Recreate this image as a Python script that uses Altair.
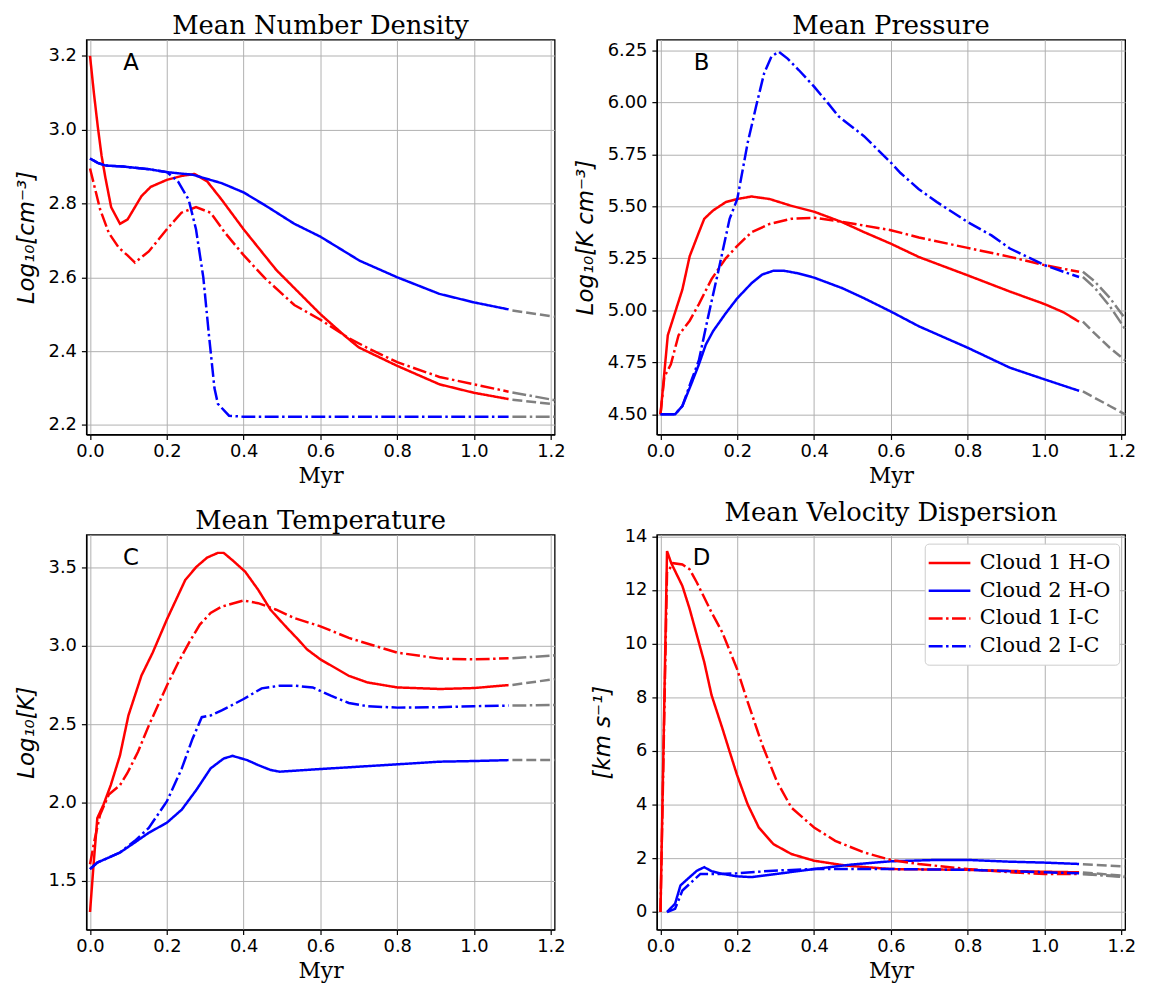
import altair as alt
import pandas as pd

SERIES = ["Cloud 1 H-O", "Cloud 2 H-O", "Cloud 1 I-C", "Cloud 2 I-C"]
COLORS = ["#ff0000", "#0000ff", "#ff0000", "#0000ff"]
DASHDOT = [14, 3.5, 2.5, 3.5]
DASHES = [[1, 0], [1, 0], DASHDOT, DASHDOT]
KINDS = ["H-O", "H-O", "I-C", "I-C"]
XTICKS = [0.0, 0.2, 0.4, 0.6, 0.8, 1.0, 1.2]

# ---------------- Panel A: Mean Number Density ----------------
A_c1ho_x = [0.0, 0.01, 0.02, 0.03, 0.04, 0.055, 0.078, 0.098, 0.134, 0.158, 0.2, 0.24, 0.272, 0.305, 0.343, 0.4, 0.485, 0.6, 0.665, 0.7, 0.8, 0.91, 1.0, 1.09]
A_c1ho_y = [3.2, 3.1, 3.01, 2.93, 2.87, 2.79, 2.745, 2.757, 2.82, 2.845, 2.864, 2.875, 2.88, 2.86, 2.81, 2.73, 2.62, 2.5, 2.44, 2.41, 2.36, 2.31, 2.287, 2.27]
A_c2ho_x = [0.0, 0.02, 0.04, 0.087, 0.153, 0.2, 0.267, 0.343, 0.4, 0.456, 0.532, 0.6, 0.702, 0.8, 0.91, 1.0, 1.09]
A_c2ho_y = [2.922, 2.91, 2.903, 2.9, 2.893, 2.885, 2.878, 2.855, 2.83, 2.795, 2.745, 2.71, 2.645, 2.6, 2.555, 2.532, 2.513]
A_c1ic_x = [0.0, 0.026, 0.049, 0.075, 0.097, 0.117, 0.153, 0.2, 0.238, 0.276, 0.314, 0.352, 0.4, 0.456, 0.532, 0.6, 0.674, 0.72, 0.8, 0.91, 1.0, 1.09]
A_c1ic_y = [2.895, 2.785, 2.72, 2.68, 2.66, 2.64, 2.67, 2.73, 2.775, 2.79, 2.775, 2.72, 2.66, 2.597, 2.525, 2.485, 2.435, 2.41, 2.37, 2.33, 2.31, 2.29]
A_c2ic_x = [0.0, 0.02, 0.04, 0.087, 0.153, 0.2, 0.229, 0.257, 0.276, 0.295, 0.31, 0.324, 0.333, 0.362, 0.4, 0.7, 1.09]
A_c2ic_y = [2.922, 2.91, 2.903, 2.9, 2.893, 2.885, 2.86, 2.81, 2.73, 2.6, 2.44, 2.30, 2.257, 2.225, 2.222, 2.222, 2.222]
A_ext_x = [1.10, 1.21]
A_ext_c1ho = [2.268, 2.256]
A_ext_c2ho = [2.51, 2.493]
A_ext_c1ic = [2.288, 2.267]
A_ext_c2ic = [2.222, 2.222]

# ---------------- Panel B: Mean Pressure ----------------
B_c1ho_x = [0.0, 0.019, 0.038, 0.057, 0.076, 0.1, 0.114, 0.137, 0.17, 0.2, 0.237, 0.284, 0.341, 0.4, 0.474, 0.531, 0.6, 0.673, 0.8, 0.91, 1.0, 1.05, 1.09]
B_c1ho_y = [4.5, 4.88, 4.99, 5.10, 5.26, 5.375, 5.44, 5.48, 5.52, 5.535, 5.547, 5.535, 5.502, 5.474, 5.423, 5.375, 5.32, 5.256, 5.168, 5.09, 5.03, 4.99, 4.945]
B_c2ho_x = [0.0, 0.038, 0.057, 0.08, 0.1, 0.118, 0.137, 0.17, 0.2, 0.237, 0.265, 0.294, 0.322, 0.36, 0.4, 0.474, 0.53, 0.6, 0.673, 0.8, 0.91, 1.0, 1.09]
B_c2ho_y = [4.5, 4.5, 4.54, 4.645, 4.74, 4.835, 4.9, 4.986, 5.058, 5.13, 5.172, 5.19, 5.19, 5.177, 5.157, 5.106, 5.058, 4.994, 4.923, 4.82, 4.724, 4.668, 4.613]
B_c1ic_x = [0.0, 0.01, 0.027, 0.047, 0.076, 0.1, 0.133, 0.17, 0.2, 0.237, 0.284, 0.341, 0.4, 0.474, 0.6, 0.673, 0.8, 0.91, 1.0, 1.09]
B_c1ic_y = [4.5, 4.68, 4.74, 4.88, 4.95, 5.03, 5.15, 5.25, 5.31, 5.375, 5.415, 5.44, 5.445, 5.425, 5.385, 5.35, 5.30, 5.257, 5.217, 5.185]
B_c2ic_x = [0.0, 0.038, 0.057, 0.08, 0.1, 0.123, 0.152, 0.18, 0.2, 0.227, 0.251, 0.27, 0.289, 0.308, 0.331, 0.36, 0.4, 0.436, 0.464, 0.53, 0.6, 0.625, 0.672, 0.72, 0.8, 0.862, 0.91, 1.0, 1.05, 1.09]
B_c2ic_y = [4.5, 4.5, 4.54, 4.66, 4.76, 4.96, 5.2, 5.44, 5.535, 5.805, 5.996, 6.14, 6.22, 6.243, 6.21, 6.155, 6.075, 5.996, 5.932, 5.837, 5.71, 5.66, 5.583, 5.52, 5.424, 5.36, 5.297, 5.217, 5.185, 5.16]
B_ext_x = [1.10, 1.13, 1.17, 1.21]
B_ext_c1ho = [4.945, 4.89, 4.82, 4.76]
B_ext_c2ho = [4.61, 4.58, 4.54, 4.5]
B_ext_c1ic = [5.185, 5.14, 5.06, 4.96]
B_ext_c2ic = [5.16, 5.11, 5.02, 4.91]

# ---------------- Panel C: Mean Temperature ----------------
C_c1ho_x = [0.0, 0.01, 0.019, 0.035, 0.054, 0.078, 0.1, 0.134, 0.163, 0.2, 0.248, 0.277, 0.305, 0.333, 0.348, 0.371, 0.404, 0.438, 0.47, 0.513, 0.542, 0.565, 0.6, 0.674, 0.722, 0.8, 0.911, 1.0, 1.09]
C_c1ho_y = [1.30, 1.627, 1.9, 1.985, 2.11, 2.30, 2.555, 2.81, 2.955, 3.167, 3.42, 3.504, 3.563, 3.593, 3.593, 3.546, 3.473, 3.357, 3.23, 3.114, 3.04, 2.977, 2.913, 2.808, 2.766, 2.734, 2.724, 2.73, 2.749]
C_c2ho_x = [0.0, 0.019, 0.049, 0.078, 0.116, 0.153, 0.2, 0.239, 0.277, 0.314, 0.348, 0.371, 0.409, 0.438, 0.47, 0.494, 0.6, 0.8, 0.911, 1.0, 1.09]
C_c2ho_y = [1.574, 1.616, 1.648, 1.68, 1.743, 1.806, 1.87, 1.954, 2.08, 2.217, 2.28, 2.297, 2.27, 2.238, 2.207, 2.196, 2.213, 2.243, 2.26, 2.264, 2.27]
C_c1ic_x = [0.0, 0.011, 0.026, 0.049, 0.078, 0.097, 0.125, 0.153, 0.2, 0.229, 0.258, 0.286, 0.314, 0.343, 0.4, 0.438, 0.485, 0.532, 0.6, 0.674, 0.8, 0.911, 1.0, 1.09]
C_c1ic_y = [1.605, 1.75, 1.92, 2.05, 2.11, 2.186, 2.323, 2.49, 2.745, 2.89, 3.02, 3.135, 3.209, 3.25, 3.289, 3.272, 3.23, 3.177, 3.124, 3.05, 2.956, 2.918, 2.913, 2.92]
C_c2ic_x = [0.0, 0.019, 0.049, 0.078, 0.116, 0.153, 0.2, 0.239, 0.267, 0.291, 0.314, 0.343, 0.4, 0.447, 0.494, 0.532, 0.58, 0.627, 0.674, 0.722, 0.8, 0.911, 1.0, 1.09]
C_c2ic_y = [1.574, 1.616, 1.648, 1.68, 1.753, 1.837, 2.006, 2.217, 2.407, 2.544, 2.555, 2.587, 2.66, 2.728, 2.745, 2.745, 2.734, 2.681, 2.635, 2.614, 2.605, 2.608, 2.614, 2.618]
C_ext_x = [1.10, 1.21]
C_ext_c1ho = [2.75, 2.787]
C_ext_c2ho = [2.27, 2.27]
C_ext_c1ic = [2.92, 2.939]
C_ext_c2ic = [2.618, 2.622]

# ---------------- Panel D: Mean Velocity Dispersion ----------------
D_c1ho_x = [0.0, 0.017, 0.028, 0.057, 0.076, 0.095, 0.114, 0.133, 0.161, 0.18, 0.199, 0.227, 0.256, 0.294, 0.341, 0.4, 0.483, 0.6, 0.8, 1.0, 1.09]
D_c1ho_y = [0.0, 13.45, 13.0, 12.15, 11.29, 10.3, 9.31, 8.08, 6.85, 5.98, 5.12, 4.01, 3.15, 2.53, 2.16, 1.91, 1.73, 1.6, 1.57, 1.5, 1.48]
D_c2ho_x = [0.017, 0.038, 0.052, 0.076, 0.095, 0.114, 0.133, 0.161, 0.199, 0.237, 0.303, 0.4, 0.492, 0.6, 0.72, 0.8, 0.909, 1.0, 1.09]
D_c2ho_y = [0.0, 0.31, 0.99, 1.3, 1.54, 1.67, 1.52, 1.42, 1.33, 1.3, 1.42, 1.6, 1.76, 1.89, 1.94, 1.94, 1.875, 1.84, 1.79]
D_c1ic_x = [0.0, 0.017, 0.033, 0.057, 0.076, 0.095, 0.133, 0.161, 0.199, 0.227, 0.265, 0.303, 0.341, 0.4, 0.455, 0.53, 0.6, 0.672, 0.8, 0.909, 1.0, 1.09]
D_c1ic_y = [0.0, 12.64, 13.0, 12.95, 12.77, 12.27, 11.16, 10.42, 9.07, 7.83, 6.23, 4.87, 3.885, 3.15, 2.65, 2.22, 1.94, 1.79, 1.6, 1.48, 1.42, 1.42]
D_c2ic_x = [0.017, 0.038, 0.057, 0.085, 0.104, 0.152, 0.199, 0.294, 0.4, 0.6, 0.8, 1.0, 1.09]
D_c2ic_y = [0.0, 0.12, 0.8, 1.17, 1.42, 1.42, 1.44, 1.54, 1.6, 1.6, 1.57, 1.48, 1.44]
D_ext_x = [1.10, 1.21]
D_ext_c1ho = [1.47, 1.35]
D_ext_c2ho = [1.78, 1.70]
D_ext_c1ic = [1.41, 1.30]
D_ext_c2ic = [1.43, 1.32]


def main_frame(pairs):
    rows = []
    for name, (xs, ys) in zip(SERIES, pairs):
        for x, y in zip(xs, ys):
            rows.append({"x": x, "y": y, "series": name})
    return pd.DataFrame(rows)


def ext_frame(xs, ylists):
    rows = []
    for name, kind, ys in zip(SERIES, KINDS, ylists):
        for x, y in zip(xs, ys):
            rows.append({"x": x, "y": y, "series": name, "kind": kind})
    return pd.DataFrame(rows)


LEGEND = alt.Legend(
    title=None, orient="none", legendX=270, legendY=9,
    symbolType="M-2.1,0H2.1", symbolSize=400, symbolStrokeWidth=2.5,
    symbolOffset=5.5, labelOffset=19,
    labelFont="DejaVu Serif", labelFontSize=21, labelColor="black", labelLimit=300,
    padding=8, rowPadding=6,
    fillColor="white", strokeColor="#cccccc", cornerRadius=4,
)


def panel(title, ytitle, mdf, edf, ydom, yticks, yfmt, letter, legend):
    xenc = alt.X("x:Q", scale=alt.Scale(domain=[-0.0095, 1.21], nice=False, zero=False),
                 axis=alt.Axis(values=XTICKS, format=".1f", title="Myr"))
    yenc = alt.Y("y:Q", scale=alt.Scale(domain=ydom, nice=False, zero=False),
                 axis=alt.Axis(values=yticks, format=yfmt, title=ytitle))
    lg = LEGEND if legend else None
    main = alt.Chart(mdf).mark_line(strokeWidth=2.5).encode(
        x=xenc, y=yenc,
        color=alt.Color("series:N", scale=alt.Scale(domain=SERIES, range=COLORS), legend=lg),
        strokeDash=alt.StrokeDash("series:N", scale=alt.Scale(domain=SERIES, range=DASHES), legend=lg),
    )
    ext_ho = alt.Chart(edf).transform_filter(alt.datum.kind == "H-O").mark_line(
        color="#808080", strokeWidth=2.5, strokeDash=[10, 4]
    ).encode(x=xenc, y=yenc, detail="series:N")
    ext_ic = alt.Chart(edf).transform_filter(alt.datum.kind == "I-C").mark_line(
        color="#808080", strokeWidth=2.5, strokeDash=DASHDOT
    ).encode(x=xenc, y=yenc, detail="series:N")
    lab = alt.Chart(pd.DataFrame({"t": [letter]})).mark_text(
        font="DejaVu Sans", fontSize=23, color="black", align="center", baseline="alphabetic"
    ).encode(x=alt.value(45), y=alt.value(30.5), text="t:N")
    return alt.layer(ext_ho, ext_ic, main, lab).properties(
        width=472, height=398,
        title=alt.TitleParams(title, frame="group", anchor="middle"),
    )


A = panel("Mean Number Density", "Log₁₀[cm⁻³]",
          main_frame([(A_c1ho_x, A_c1ho_y), (A_c2ho_x, A_c2ho_y), (A_c1ic_x, A_c1ic_y), (A_c2ic_x, A_c2ic_y)]),
          ext_frame(A_ext_x, [A_ext_c1ho, A_ext_c2ho, A_ext_c1ic, A_ext_c2ic]),
          [2.174, 3.244], [2.2, 2.4, 2.6, 2.8, 3.0, 3.2], ".1f", "A", False)
B = panel("Mean Pressure", "Log₁₀[K cm⁻³]",
          main_frame([(B_c1ho_x, B_c1ho_y), (B_c2ho_x, B_c2ho_y), (B_c1ic_x, B_c1ic_y), (B_c2ic_x, B_c2ic_y)]),
          ext_frame(B_ext_x, [B_ext_c1ho, B_ext_c2ho, B_ext_c1ic, B_ext_c2ic]),
          [4.403, 6.301], [4.5, 4.75, 5.0, 5.25, 5.5, 5.75, 6.0, 6.25], ".2f", "B", False)
C = panel("Mean Temperature", "Log₁₀[K]",
          main_frame([(C_c1ho_x, C_c1ho_y), (C_c2ho_x, C_c2ho_y), (C_c1ic_x, C_c1ic_y), (C_c2ic_x, C_c2ic_y)]),
          ext_frame(C_ext_x, [C_ext_c1ho, C_ext_c2ho, C_ext_c1ic, C_ext_c2ic]),
          [1.188, 3.709], [1.5, 2.0, 2.5, 3.0, 3.5], ".1f", "C", False)
D = panel("Mean Velocity Dispersion", "[km s⁻¹]",
          main_frame([(D_c1ho_x, D_c1ho_y), (D_c2ho_x, D_c2ho_y), (D_c1ic_x, D_c1ic_y), (D_c2ic_x, D_c2ic_y)]),
          ext_frame(D_ext_x, [D_ext_c1ho, D_ext_c2ho, D_ext_c1ic, D_ext_c2ic]),
          [-0.655, 14.06], [0, 2, 4, 6, 8, 10, 12, 14], "d", "D", True)

chart = alt.concat(
    A, B, C, D, columns=2, spacing={"row": 101, "column": 103}, bounds="flush"
).resolve_scale(
    color="independent", strokeDash="independent", x="independent", y="independent"
).resolve_legend(
    color="independent", strokeDash="independent"
).configure(
    padding={"left": 6, "top": 0, "right": 5, "bottom": 2}, background="white"
).configure_view(
    stroke="black", strokeWidth=1.3
).configure_axis(
    grid=True, gridColor="#b0b0b0", gridWidth=1,
    domainColor="black", domainWidth=1.3,
    tickColor="black", tickSize=5, tickWidth=1.2,
    labelFont="DejaVu Sans", labelFontSize=18, labelColor="black", labelFlush=False,
    titleFont="DejaVu Serif", titleFontSize=22, titleFontWeight="normal", titleColor="black",
).configure_axisX(
    labelPadding=3, titlePadding=5,
).configure_axisY(
    labelPadding=5, titlePadding=10,
    titleFont="DejaVu Sans", titleFontStyle="italic", titleFontSize=23,
).configure_title(
    font="DejaVu Serif", fontSize=26, fontWeight="normal", color="black", offset=1,
)

chart.save("out.html", embed_options={"renderer": "svg", "actions": False})
